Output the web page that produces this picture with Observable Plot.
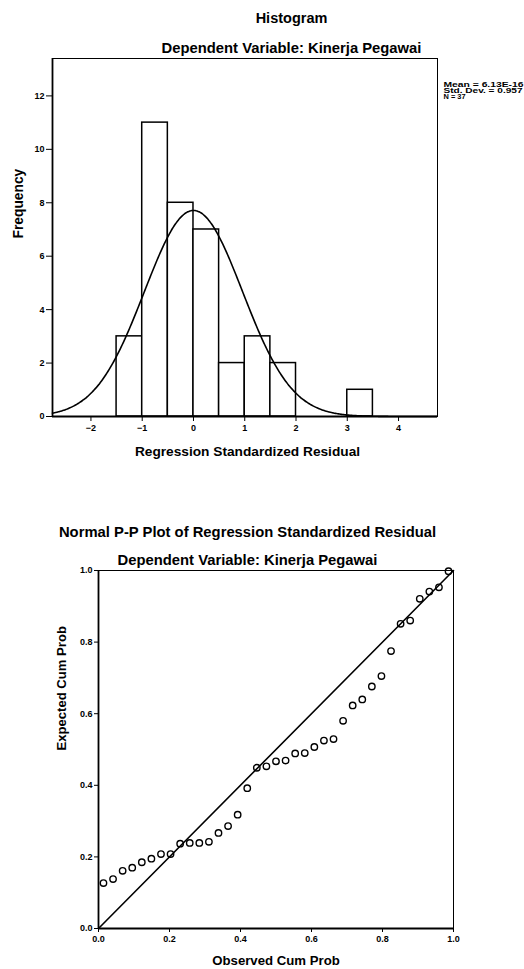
<!DOCTYPE html>
<html><head><meta charset="utf-8">
<script src="https://cdn.jsdelivr.net/npm/d3@7"></script>
<script src="https://cdn.jsdelivr.net/npm/@observablehq/plot@0.6"></script>
<style>
body{margin:0;background:#fff;}
#wrap{width:524px;height:969px;position:relative;overflow:hidden;}
#wrap svg{display:block;}
</style></head><body><div id="wrap"></div>
<script>
// ---------- Histogram data ----------
const binStart = [-1.5, -1, -0.5, 0, 0.5, 1, 1.5, 3];
const binEnd   = [-1, -0.5, 0, 0.5, 1, 1.5, 2, 3.5];
const frequency = [3, 11, 8, 7, 2, 3, 2, 1];
const statLabels = ["Mean = 6.13E-16", "Std. Dev. = 0.957", "N = 37"];
const statMean = 6.13e-16, statSD = 0.957, statN = 37, binWidth = 0.5;
const histXTicks = [-2, -1, 0, 1, 2, 3, 4];
const histYTicks = [0, 2, 4, 6, 8, 10, 12];
const histXDomain = [-2.75, 4.76];
const histYDomain = [0, 13.4];

// ---------- P-P plot data ----------
const observedCumProb = [0.014,0.041,0.068,0.095,0.122,0.149,0.176,0.203,0.230,0.257,0.284,0.311,0.338,0.365,0.392,0.419,0.446,0.473,0.500,0.527,0.554,0.581,0.608,0.635,0.662,0.689,0.716,0.743,0.770,0.797,0.824,0.851,0.878,0.905,0.932,0.959,0.986];
const expectedCumProb = [0.127,0.138,0.161,0.170,0.185,0.195,0.208,0.208,0.237,0.239,0.239,0.242,0.267,0.286,0.318,0.392,0.449,0.453,0.467,0.469,0.489,0.490,0.507,0.525,0.529,0.580,0.623,0.640,0.676,0.705,0.775,0.851,0.860,0.921,0.941,0.953,0.998];
const diagonal = [0, 1];
const ppTicks = [0, 0.2, 0.4, 0.6, 0.8, 1.0];

const FONT = "'Liberation Sans', Arial, Helvetica, sans-serif";

// ---------- Histogram ----------
const bars = binStart.map((s, i) => ({x1: s, x2: binEnd[i], y: frequency[i]}));
const curve = d3.range(histXDomain[0], histXDomain[1] + 0.001, 0.02).map(x => ({
  x, y: statN * binWidth / (statSD * Math.sqrt(2 * Math.PI)) * Math.exp(-0.5 * ((x - statMean) / statSD) ** 2)
}));

const hist = Plot.plot({
  width: 524, height: 470,
  marginLeft: 52, marginRight: 87, marginTop: 58, marginBottom: 54,
  style: {fontFamily: FONT, fontSize: "9px", color: "black", background: "white"},
  x: {domain: histXDomain, ticks: histXTicks, label: null},
  y: {domain: histYDomain, ticks: histYTicks, label: null},
  marks: [
    Plot.rectY(bars, {x1: "x1", x2: "x2", y: "y", fill: "white", stroke: "black", strokeWidth: 1.5}),
    Plot.line(curve, {x: "x", y: "y", stroke: "black", strokeWidth: 1.6, curve: "basis"}),
    Plot.frame({stroke: "black", strokeWidth: 1}),
    Plot.ruleY([histYDomain[0]], {stroke: "black", strokeWidth: 1.8}),
    Plot.ruleX([histXDomain[0]], {stroke: "black", strokeWidth: 1.8}),
    Plot.axisX({ticks: histXTicks, tickSize: 5, tickPadding: 3, label: null, fontWeight: "bold"}),
    Plot.axisY({ticks: histYTicks, tickSize: 6, tickPadding: 2, label: null, fontWeight: "bold"}),
    Plot.text(["Histogram"], {frameAnchor: "top", dx: 46.5, dy: -40, fontSize: 14.5, fontWeight: "bold", lineAnchor: "middle"}),
    Plot.text(["Dependent Variable: Kinerja Pegawai"], {frameAnchor: "top", dx: 46.5, dy: -10, fontSize: 14.8, fontWeight: "bold", lineAnchor: "middle"}),
    Plot.text(["Regression Standardized Residual"], {frameAnchor: "bottom", dx: 2.5, dy: 35, fontSize: 13.7, fontWeight: "bold", lineAnchor: "middle"}),
    Plot.text(["Frequency"], {frameAnchor: "left", dx: -34, dy: 1, rotate: -90, fontSize: 13.8, fontWeight: "bold", lineAnchor: "middle"}),
    ...statLabels.map((s, i) => Plot.text([s], {frameAnchor: "top-right", dx: 6, dy: 26 + 6 * i, textAnchor: "start", fontSize: 7, fontWeight: "bold", lineAnchor: "middle"}))
  ]
});
const statWidths = [80, 79, 22];
d3.select(hist).selectAll("text").filter(function () { return statLabels.includes(this.textContent); })
  .each(function () {
    const i = statLabels.indexOf(this.textContent);
    d3.select(this).attr("textLength", statWidths[i]).attr("lengthAdjust", "spacingAndGlyphs");
  });

// ---------- P-P plot ----------
const pts = observedCumProb.map((x, i) => ({x, y: expectedCumProb[i]}));
const diag = diagonal.map(v => ({x: v, y: v}));

const pp = Plot.plot({
  width: 524, height: 499,
  marginLeft: 98, marginRight: 71, marginTop: 100, marginBottom: 41,
  style: {fontFamily: FONT, fontSize: "9px", color: "black", background: "white"},
  x: {domain: [0, 1], ticks: ppTicks, tickFormat: d3.format(".1f"), label: null},
  y: {domain: [0, 1], ticks: ppTicks, tickFormat: d3.format(".1f"), label: null},
  marks: [
    Plot.line(diag, {x: "x", y: "y", stroke: "black", strokeWidth: 1.6}),
    Plot.dot(pts, {x: "x", y: "y", r: 3.2, stroke: "black", strokeWidth: 1.4, fill: "none"}),
    Plot.frame({stroke: "black", strokeWidth: 1}),
    Plot.ruleY([0], {stroke: "black", strokeWidth: 1.8}),
    Plot.ruleX([0], {stroke: "black", strokeWidth: 1.8}),
    Plot.axisX({ticks: ppTicks, tickFormat: d3.format(".1f"), tickSize: 4, tickPadding: 3, label: null, fontWeight: "bold"}),
    Plot.axisY({ticks: ppTicks, tickFormat: d3.format(".1f"), tickSize: 4, tickPadding: 2, label: null, fontWeight: "bold"}),
    Plot.text(["Normal P-P Plot of Regression Standardized Residual"], {frameAnchor: "top", dx: -28.5, dy: -38, fontSize: 14.8, fontWeight: "bold", lineAnchor: "middle"}),
    Plot.text(["Dependent Variable: Kinerja Pegawai"], {frameAnchor: "top", dx: -28.5, dy: -10, fontSize: 14.8, fontWeight: "bold", lineAnchor: "middle"}),
    Plot.text(["Observed Cum Prob"], {frameAnchor: "bottom", dx: 0, dy: 32, fontSize: 13.2, fontWeight: "bold", lineAnchor: "middle"}),
    Plot.text(["Expected Cum Prob"], {frameAnchor: "left", dx: -37, dy: 1, rotate: -90, fontSize: 13.1, fontWeight: "bold", lineAnchor: "middle"})
  ]
});

const wrap = document.getElementById("wrap");
wrap.appendChild(hist);
wrap.appendChild(pp);
</script>
</body></html>
